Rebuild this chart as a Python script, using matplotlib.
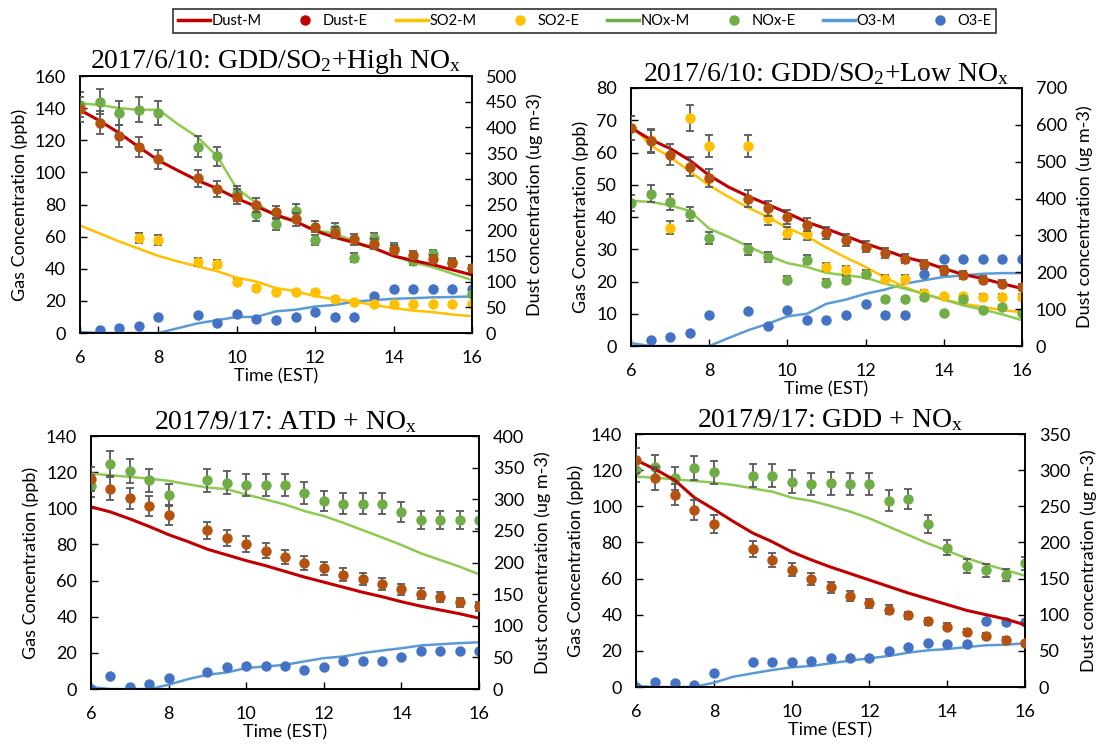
import matplotlib
matplotlib.use("Agg")
import matplotlib.pyplot as plt
from matplotlib.lines import Line2D

plt.rcParams['font.family'] = ['Lato', 'DejaVu Sans']
plt.rcParams['mathtext.fontset'] = 'custom'
plt.rcParams['mathtext.rm'] = 'Liberation Serif'
plt.rcParams['mathtext.it'] = 'Liberation Serif'

# colours
C_DUST_M = '#C00000'
C_DUST_E = '#B5520F'
C_SO2 = '#FFC000'
C_NOX_M = '#8CCB50'
C_NOX_E = '#70AD47'
C_O3_M = '#5B9BD5'
C_O3_E = '#4472C4'
C_ERR = '#595959'

# ------------------------ data ------------------------
t_model = [6, 6.5, 7, 7.5, 8, 8.5, 9, 9.5, 10, 10.5, 11, 11.5, 12, 12.5, 13, 13.5, 14, 14.5, 15, 15.5, 16]
t_exp = [6, 6.5, 7, 7.5, 8, 9, 9.5, 10, 10.5, 11, 11.5, 12, 12.5, 13, 13.5, 14, 14.5, 15, 15.5, 16]
t_exp_no6 = t_exp[1:]
t_so2_p1 = [7.5, 8, 9, 9.5, 10, 10.5, 11, 11.5, 12, 12.5, 13, 13.5, 14, 14.5, 15, 15.5, 16]

# panel 1: 2017/6/10 GDD/SO2 + high NOx
p1_dust_m = [434, 413, 389, 362, 336, 316, 297, 281, 262, 246, 230, 217, 199, 186, 176, 165, 150, 141, 133, 123, 113]
p1_dust_e = [435, 409, 384, 362, 338, 301, 281, 265, 249, 235, 221, 207, 195, 182, 173, 162, 152, 144, 136, 126]
p1_so2_m = [67, 62, 57, 52.5, 48, 44.5, 41.5, 38.5, 34.5, 32, 28, 26, 23, 21, 19.5, 17.5, 15.5, 14, 13, 11.5, 10.5]
p1_so2_e = [59, 58, 44, 43, 32, 28, 25.5, 25.5, 25.5, 21, 19.5, 18, 18, 18, 18, 18, 18]
p1_nox_m = [143, 142, 140, 139, 139, 130, 122, 110, 90, 81, 72.5, 69.5, 64, 62, 57, 53, 48, 44, 41, 37, 33]
p1_nox_e = [142, 144, 137, 139, 137, 116, 110, 87, 74, 68, 76, 58, 65, 47, 59, 53, 45, 49, 44, 24]
p1_o3_m = [0.6, 0, 0, 0, 0, 3, 6, 8, 10, 10, 13.5, 14.5, 16.5, 17.5, 19.5, 20.5, 21.3, 21.7, 22.2, 22.4, 22.8]
p1_o3_e = [2, 3, 4.5, 10, 11, 6, 12, 8.5, 8, 10, 13, 10, 10, 23, 27.5, 27.5, 27.5, 27.5, 27.5]

# panel 2: 2017/6/10 GDD/SO2 + low NOx
p2_dust_m = [592, 560, 536, 504, 463, 431, 406, 384, 361, 336, 318, 298, 278, 260, 241, 228, 210, 194, 183, 169, 156]
p2_dust_e = [592, 555, 519, 487, 456, 400, 374, 350, 329, 307, 288, 269, 252, 237, 222, 205, 192, 180, 169, 160]
p2_so2_m = [68.7, 62.2, 58.6, 54.2, 49.8, 46.2, 42.9, 40, 36.6, 34, 30.5, 27.4, 24.5, 21.2, 18.3, 16, 14.4, 13.1, 12.1, 11.1, 10.5]
p2_so2_e = [67.7, 63.8, 36.6, 70.7, 61.9, 61.9, 39.7, 35.1, 34.8, 24.5, 23.5, 22.4, 20.9, 20.9, 16.4, 15.4, 15.4, 15.2, 15.2, 15.2]
p2_nox_m = [45, 44.7, 43.6, 41.9, 36.4, 33.8, 30.9, 28.1, 25.7, 24.5, 22.7, 21.9, 21.2, 19.3, 17.8, 16.2, 14.4, 12.6, 11.3, 9.8, 8]
p2_nox_e = [44.4, 47.2, 44.7, 41, 33.5, 30, 27.6, 20.6, 26.8, 19.6, 20.6, 22.4, 14.5, 14.5, 15.2, 10.3, 14.5, 11.3, 12.1, 10.2]
p2_o3_m = [0.9, 0, 0, 0, 0, 2.5, 4.9, 6.9, 9.2, 10, 13.1, 14.4, 16.2, 17.5, 19.3, 20.4, 21.4, 21.9, 22.4, 22.6, 22.6]
p2_o3_e = [1.8, 2.8, 4.1, 9.5, 10.9, 6.2, 11.3, 8.2, 8, 9.5, 13.1, 9.5, 9.7, 22.2, 27.1, 27.1, 27.1, 27.1, 27.1]

# panel 3: 2017/9/17 ATD + NOx
p3_dust_m = [288, 280, 269, 257, 244, 233, 221, 212, 203, 195, 186, 177, 169, 161, 153, 146, 138, 131, 125, 119, 112]
p3_dust_e = [332, 317, 302, 289, 275, 251, 239, 229, 219, 209, 199, 191, 181, 174, 166, 158, 151, 145, 137, 131]
p3_nox_m = [119.2, 118.3, 117.4, 116.4, 115.2, 113.3, 111.5, 110.6, 107.6, 104.9, 102.1, 98.5, 95.7, 92, 87.9, 83.9, 79.7, 75.1, 71.4, 67.7, 63.5]
p3_nox_e = [112.2, 124.7, 120.5, 115.5, 107.6, 115.5, 114.1, 112.8, 112.8, 112.8, 108.5, 104.1, 102.6, 102.6, 102.6, 97.9, 93.5, 93.5, 93.5, 93.5]
p3_o3_m = [1.1, 0, 0, 0, 2.4, 5.5, 7.9, 9.2, 11.6, 12.5, 13.4, 15.3, 17.1, 18, 19.9, 21.3, 22.6, 24.1, 24.8, 25.4, 25.9]
p3_o3_e = [0, 7, 0.9, 2.9, 6.1, 9.4, 12, 12.9, 12.9, 12.9, 10.3, 12, 15.6, 15.6, 15.6, 18, 21.3, 21.3, 21.3, 21.3]

# panel 4: 2017/9/17 GDD + NOx
p4_dust_m = [314, 301, 286, 262, 246, 229, 213, 201, 187, 176, 166, 157, 148, 139, 130, 122, 114, 106, 100, 94, 86]
p4_dust_e = [314, 289, 266, 245, 226, 191, 176, 162, 149, 138, 126, 116, 107, 99, 91, 83.5, 76.5, 70.6, 65, 60.4]
p4_nox_m = [116.4, 115.8, 114.9, 114, 113.1, 111.8, 109.9, 108.1, 104.8, 103, 100.2, 97.1, 93.3, 88.7, 84.1, 79.5, 75.4, 71.2, 67.9, 64.7, 61.6]
p4_nox_e = [120.1, 121.9, 115.5, 121.4, 118.8, 116.9, 116.9, 113.6, 112.3, 112.7, 112.3, 112.3, 103.1, 104, 90.4, 77.1, 67, 64.7, 62, 68.4]
p4_o3_m = [0.6, 0, 0, 0, 2.4, 5.7, 7.6, 9.4, 10.9, 11.6, 13.1, 14.6, 15.9, 17.2, 19, 20.3, 21, 22.1, 23.1, 23.4, 24.2]
p4_o3_e = [0, 3, 2, 1.1, 7.9, 13.7, 13.7, 14, 14.6, 15.9, 16.2, 16.2, 19.9, 22.3, 24.2, 23.6, 23.8, 36.7, 36.2, 36.2]

# relative size of the experimental error bars
ERR_FRAC = 0.055

titles = [r'2017/6/10: GDD/SO$_\mathrm{2}$+High NO$_\mathrm{x}$',
          r'2017/6/10: GDD/SO$_\mathrm{2}$+Low NO$_\mathrm{x}$',
          r'2017/9/17: ATD + NO$_\mathrm{x}$',
          r'2017/9/17: GDD + NO$_\mathrm{x}$']
gas_max = [160, 80, 140, 140]
gas_step = [20, 10, 20, 20]
dust_max = [500, 700, 400, 350]
dust_step = [50, 100, 50, 50]

# axes rectangles in figure fraction
rects = [[0.0729, 0.5542, 0.3573, 0.3440],
         [0.5752, 0.5368, 0.3564, 0.3454],
         [0.0830, 0.0776, 0.3537, 0.3387],
         [0.5798, 0.0803, 0.3546, 0.3387]]

MS = 7.5


def err_points(ax, x, y, color, with_err=True):
    if with_err:
        ax.errorbar(x, y, yerr=[v * ERR_FRAC for v in y], fmt='none', ecolor=C_ERR,
                    elinewidth=1.3, capsize=3.2, capthick=1.3, zorder=3)
    ax.plot(x, y, 'o', color=color, ms=MS, mec='none', zorder=4)


def style_axis(ax, ax2, i):
    ax.set_xlim(6, 16)
    ax.set_xticks([6, 8, 10, 12, 14, 16])
    ax.set_ylim(0, gas_max[i])
    ax.set_yticks(range(0, gas_max[i] + 1, gas_step[i]))
    ax2.set_ylim(0, dust_max[i])
    ax2.set_yticks(range(0, dust_max[i] + 1, dust_step[i]))
    for a in (ax, ax2):
        a.tick_params(direction='in', length=5, width=1, labelsize=13, color='black')
        a.tick_params(axis='y', pad=10)
        for s in a.spines.values():
            s.set_linewidth(1.2)
    ax.tick_params(axis='x', pad=12)
    ax.set_xlabel('Time (EST)', fontsize=13, labelpad=2)
    ax.set_ylabel('Gas Concentration (ppb)', fontsize=13, labelpad=5)
    ax2.set_ylabel('Dust concentration (ug m-3)', fontsize=13, labelpad=7)
    ax.set_title(titles[i], fontsize=20, family='Liberation Serif', pad=5)


fig = plt.figure(figsize=(10.97, 7.47), dpi=100)

panels = [
    dict(dust_m=p1_dust_m, dust_e=p1_dust_e, so2=(p1_so2_m, t_so2_p1, p1_so2_e),
         nox_m=p1_nox_m, nox_e=p1_nox_e, o3_m=p1_o3_m, o3=(t_exp_no6, p1_o3_e)),
    dict(dust_m=p2_dust_m, dust_e=p2_dust_e, so2=(p2_so2_m, t_exp, p2_so2_e),
         nox_m=p2_nox_m, nox_e=p2_nox_e, o3_m=p2_o3_m, o3=(t_exp_no6, p2_o3_e)),
    dict(dust_m=p3_dust_m, dust_e=p3_dust_e, so2=None,
         nox_m=p3_nox_m, nox_e=p3_nox_e, o3_m=p3_o3_m, o3=(t_exp, p3_o3_e)),
    dict(dust_m=p4_dust_m, dust_e=p4_dust_e, so2=None,
         nox_m=p4_nox_m, nox_e=p4_nox_e, o3_m=p4_o3_m, o3=(t_exp, p4_o3_e)),
]

for i, p in enumerate(panels):
    ax = fig.add_axes(rects[i])
    ax2 = ax.twinx()

    # gases on the left axis
    ax.plot(t_model, p['o3_m'], color=C_O3_M, lw=1.8, zorder=2)
    err_points(ax, p['o3'][0], p['o3'][1], C_O3_E, with_err=False)
    if p['so2'] is not None:
        so2_m, t_so2, so2_e = p['so2']
        ax.plot(t_model, so2_m, color=C_SO2, lw=1.8, zorder=2)
        err_points(ax, t_so2, so2_e, C_SO2)
    ax.plot(t_model, p['nox_m'], color=C_NOX_M, lw=1.8, zorder=2)
    err_points(ax, t_exp, p['nox_e'], C_NOX_E)

    # dust on the right axis
    ax2.plot(t_model, p['dust_m'], color=C_DUST_M, lw=2.2, zorder=2)
    err_points(ax2, t_exp, p['dust_e'], C_DUST_E)

    style_axis(ax, ax2, i)

handles = [
    Line2D([], [], color=C_DUST_M, lw=2.5),
    Line2D([], [], marker='o', ls='none', color=C_DUST_M, ms=6.5),
    Line2D([], [], color=C_SO2, lw=2.5),
    Line2D([], [], marker='o', ls='none', color=C_SO2, ms=6.5),
    Line2D([], [], color=C_NOX_E, lw=2.5),
    Line2D([], [], marker='o', ls='none', color=C_NOX_E, ms=6.5),
    Line2D([], [], color=C_O3_M, lw=2.5),
    Line2D([], [], marker='o', ls='none', color=C_O3_E, ms=6.5),
]
labels = ['Dust-M', 'Dust-E', 'SO2-M', 'SO2-E', 'NOx-M', 'NOx-E', 'O3-M', 'O3-E']
leg = fig.legend(handles, labels, loc='center', bbox_to_anchor=(0.533, 0.972), ncol=8,
                 fontsize=10.5, frameon=True, fancybox=False, edgecolor='black',
                 handlelength=2.2, handletextpad=0.1, columnspacing=1.9,
                 borderpad=0.35)
leg.get_frame().set_linewidth(1.2)

fig.savefig('out.png', dpi=100)
